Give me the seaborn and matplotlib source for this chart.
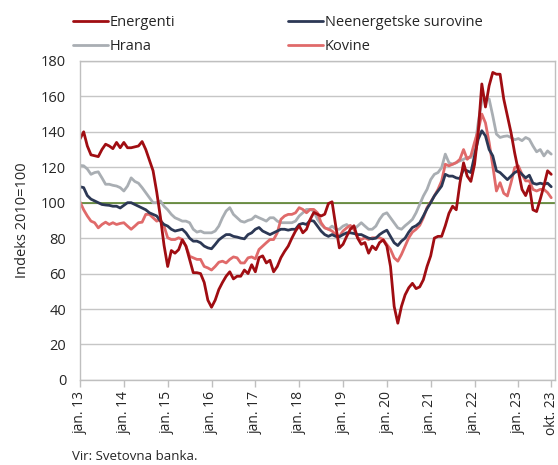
import numpy as np
import pandas as pd
import seaborn as sns
import matplotlib
matplotlib.use("Agg")
import matplotlib.pyplot as plt

# monthly index values, jan. 2013 - okt. 2023 (2010 = 100)
energenti = [
    136, 140, 132, 127, 126.5, 126, 130, 133, 132, 130.5, 134, 131,
    134, 131, 131, 131.5, 132, 134.5, 130, 124, 118, 106, 92, 76,
    64, 73, 71.5, 73.5, 79, 75.5, 68, 60.5, 60.5, 60, 55, 45,
    41, 45, 51, 55, 58.5, 61, 57, 58.5, 58.5, 62, 60, 65,
    61, 69, 70, 66, 67.5, 61, 64, 69, 72.5, 75.5, 80, 84,
    87, 83, 85, 90.5, 94.5, 93.5, 92.5, 93.5, 99.5, 100.5, 87, 74.5,
    76.5, 81, 85, 87, 80, 76.5, 77.5, 71.5, 75.5, 73.5, 77.5, 79,
    75.5, 64, 41.5, 32, 41.5, 48, 52, 54.5, 51.5, 52.5, 56.5, 64,
    70, 80, 81, 81, 87, 94, 98, 96, 111, 122.5, 115, 112,
    121.5, 139.5, 167, 154, 166, 173.5, 172.5, 172.5, 158.5, 149, 139.5, 128,
    118, 107.5, 104, 109.5, 96, 95, 102, 109.5, 118, 116,
]
neenergetske = [
    109, 108.5, 104, 102, 101, 100, 99, 98.7, 98.5, 98, 98, 97,
    98.5, 100, 100, 99, 98, 97, 96, 94.3, 93.4, 92.5, 89.6, 87.7,
    86.8, 85, 84, 84.5, 85, 83, 80, 78.3, 78.3, 77.4, 75.5, 74.5,
    74, 76.4, 79, 80.6, 82, 82, 81, 80.6, 80, 79.6, 82, 83,
    85, 86, 84, 83, 82, 83, 84, 85, 85, 84.5, 85, 85,
    87.7, 88.3, 87.7, 90, 89.6, 86.8, 84, 82, 81, 82, 81, 80.8,
    82, 83, 83, 82.6, 82, 82, 81, 80, 79.6, 80, 82, 83.4,
    84.5, 81, 77.4, 75.8, 78.3, 80, 83.4, 86, 87, 88.7, 92.5, 96.6,
    100, 103.8, 106.6, 109.4, 116, 115, 115, 114, 113.6, 118.9, 118, 117,
    126.4, 135.8, 140.6, 137.7, 130, 126.4, 118, 117, 115, 113, 115, 117,
    118, 116, 114, 115.5, 111, 110.4, 111, 110.4, 111, 109,
]
hrana = [
    121, 120.8, 119, 116, 117, 117.4, 114, 110.4, 110.4, 109.8, 109.4, 108.5,
    106.6, 109.4, 114, 112, 111, 108.5, 105.7, 102.8, 100, 100, 101, 98,
    96, 93.4, 91.5, 90.6, 89.6, 89.6, 88.7, 85, 83.4, 84, 83, 83,
    83, 84, 86.8, 91.5, 95.3, 97.2, 93.4, 91.5, 89.6, 89, 90, 90.6,
    92.5, 91.5, 90.6, 89.6, 91.5, 91.5, 89.6, 88.7, 88.7, 88.7, 88.7, 89.6,
    92.5, 94.3, 96.2, 96.2, 95.3, 90.6, 87.7, 85.8, 85, 86.8, 85, 85,
    86.8, 87.7, 85.8, 85, 86.8, 88.7, 86.8, 85, 85, 86.8, 90.6, 93.4,
    94.3, 91.5, 88.7, 85.8, 85, 87, 88.7, 90.6, 94.3, 99, 103.8, 107.5,
    113, 116, 117, 119.8, 127.4, 122.6, 121.7, 122.6, 123.6, 124.5, 125.5, 125.5,
    130, 145, 157.5, 159.4, 158.5, 149, 138.7, 136.8, 137.4, 137.7, 136.8, 135.5,
    136.2, 135, 136.8, 135.8, 132, 128.7, 130, 126.4, 129.2, 127.4,
]
kovine = [
    100.4, 96, 92.5, 89.6, 88.7, 85.8, 87.7, 89, 87.7, 88.7, 87.7, 88.3,
    88.7, 86.8, 85, 86.8, 88.7, 89, 93.4, 93.4, 91.5, 89.6, 90.6, 86.8,
    80.2, 79.2, 79.2, 80.2, 79.2, 75.5, 69.8, 68.9, 68, 68, 64, 63.2,
    62, 64, 66.4, 67, 66, 68, 69.4, 68.9, 66, 66, 68.9, 69.4,
    68.3, 73.6, 75.5, 77.4, 79.2, 79.2, 83, 90.6, 92.5, 93.4, 93.4, 94.3,
    97.2, 96.2, 94.3, 96.2, 96.2, 94.3, 88.7, 85.8, 85, 84, 82, 81,
    84, 85.8, 87.2, 85, 80.2, 79.2, 80.2, 79.2, 80.2, 80.2, 80.2, 79.2,
    76.4, 73.6, 68.9, 67, 70.8, 75.5, 80.2, 83.4, 85, 87.2, 91.5, 97.2,
    100.4, 103.8, 107.5, 112.3, 121.7, 120.8, 121.7, 122.6, 124.5, 130, 124.5, 126.4,
    134, 140.6, 150, 145, 134, 120.8, 106.6, 111.3, 105.3, 103.8, 111.3, 119.8,
    120.8, 116, 112.3, 112.3, 107.5, 106.6, 107.5, 107.5, 105.7, 102.8,
]

tick_months = [0, 12, 24, 36, 48, 60, 72, 84, 96, 108, 120, 129]
tick_labels = ["jan. 13", "jan. 14", "jan. 15", "jan. 16", "jan. 17", "jan. 18",
               "jan. 19", "jan. 20", "jan. 21", "jan. 22", "jan. 23", "okt. 23"]

months = np.arange(len(energenti))
df = pd.DataFrame({
    "mesec": months,
    "Energenti": energenti,
    "Neenergetske surovine": neenergetske,
    "Hrana": hrana,
    "Kovine": kovine,
})

colors = {
    "Energenti": "#a00d12",
    "Neenergetske surovine": "#2c3855",
    "Hrana": "#a9aeb3",
    "Kovine": "#e06a6a",
}

sns.set_theme(style="white")
plt.rcParams["font.family"] = ["Open Sans", "DejaVu Sans"]

fig = plt.figure(figsize=(5.58, 4.65), dpi=100)
ax = fig.add_axes([0.1434, 0.183, 0.851, 0.686])

# draw order: grey first, dark red on top
for name in ["Hrana", "Kovine", "Neenergetske surovine", "Energenti"]:
    sns.lineplot(data=df, x="mesec", y=name, ax=ax, color=colors[name],
                 linewidth=2.0, label=name, legend=False)

ax.axhline(100, color="#4e7a1e", linewidth=1.1, zorder=1)

ax.set_xlim(0, 130)
ax.set_ylim(0, 180)
ax.set_yticks(range(0, 181, 20))
ax.yaxis.grid(True, color="#c6c6c6", linewidth=1)
ax.set_axisbelow(True)
ax.set_xticks(tick_months)
ax.set_xticklabels(tick_labels, rotation=90, fontsize=10)
ax.tick_params(axis="y", labelsize=10.5, length=0, pad=10)
ax.tick_params(axis="x", length=5, width=1, color="#bfbfbf", pad=3, bottom=True)
for s in ax.spines.values():
    s.set_color("#bfbfbf")
    s.set_linewidth(1)
ax.set_xlabel("")
ax.set_ylabel("Indeks 2010=100", fontsize=10.5, labelpad=8)

handles = {l.get_label(): l for l in ax.get_lines()}
order = ["Energenti", "Hrana", "Neenergetske surovine", "Kovine"]
fig.legend([handles[n] for n in order], order, loc="upper left",
           bbox_to_anchor=(0.112, 0.99), ncol=2, frameon=False, fontsize=10.5,
           handlelength=2.4, handletextpad=0.15, columnspacing=7.7,
           labelspacing=0.6, borderaxespad=0.3)

fig.text(0.129, 0.01, "Vir: Svetovna banka.", fontsize=9.5)

fig.savefig("out.png", dpi=100)
